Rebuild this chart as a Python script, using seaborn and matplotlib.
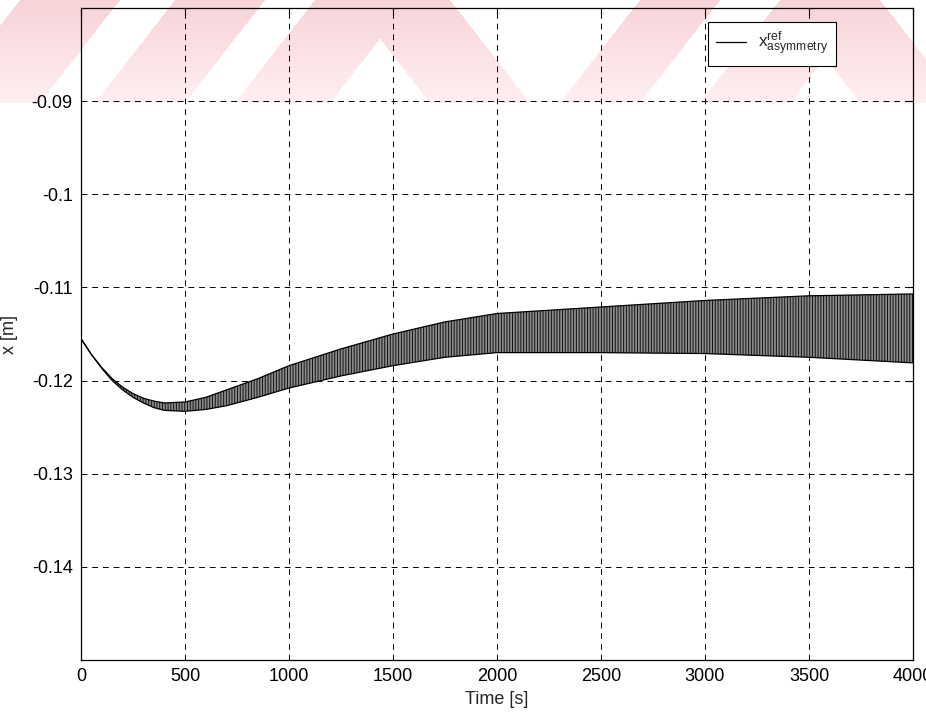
import numpy as np
import matplotlib
matplotlib.use("Agg")
import matplotlib.pyplot as plt
import seaborn as sns
from matplotlib.path import Path

# Envelope of the oscillating reference trajectory (upper / lower bounds)
time_s = [0, 50, 100, 150, 200, 250, 300, 350, 400, 500, 600, 700, 850,
          1000, 1250, 1500, 1750, 2000, 2500, 3000, 3500, 4000]
x_upper = [-0.1155, -0.1172, -0.1186, -0.1198, -0.1207, -0.1214, -0.1219,
           -0.1222, -0.1224, -0.1223, -0.1218, -0.1210, -0.1198, -0.1184,
           -0.1166, -0.1150, -0.1137, -0.1128, -0.1121, -0.1114, -0.1109,
           -0.1107]
x_lower = [-0.1155, -0.1172, -0.1187, -0.1200, -0.1210, -0.1218, -0.1224,
           -0.1229, -0.1232, -0.1233, -0.1231, -0.1227, -0.1218, -0.1208,
           -0.1195, -0.1184, -0.1175, -0.1170, -0.1170, -0.1171, -0.1175,
           -0.1181]

x_ticks = [0, 500, 1000, 1500, 2000, 2500, 3000, 3500, 4000]
y_ticks = [-0.14, -0.13, -0.12, -0.11, -0.10, -0.09]
y_tick_labels = ["-0.14", "-0.13", "-0.12", "-0.11", "-0.1", "-0.09"]
legend_label = r"$\mathregular{x^{ref}_{asymmetry}}$"

sns.set_style("white")
plt.rcParams["font.family"] = ["Liberation Sans", "DejaVu Sans"]
plt.rcParams["mathtext.fontset"] = "custom"
plt.rcParams["mathtext.rm"] = "Liberation Sans"
plt.rcParams["hatch.linewidth"] = 0.7

W, H = 926, 715
fig = plt.figure(figsize=(W / 100, H / 100), dpi=100)
fig.patch.set_facecolor("white")

# --- faint pink diagonal watermark across the top strip ---
bg = fig.add_axes([0, 0, 1, 1], zorder=0)
bg.axis("off")
band_bottom = 103
shift = 80
stripes = []
for x0, x1 in [(-60, 40), (95, 185), (235, 330), (560, 640), (700, 790)]:
    stripes.append([(x0, band_bottom), (x1, band_bottom),
                    (x1 + shift, 0), (x0 + shift, 0)])
for x0, x1 in [(430, 530), (860, 960)]:
    stripes.append([(x0, band_bottom), (x1, band_bottom),
                    (x1 - shift, 0), (x0 - shift, 0)])
yy, xx = np.mgrid[0:H, 0:W]
pts = np.column_stack([xx.ravel() + 0.5, yy.ravel() + 0.5])
mask = np.zeros(H * W, dtype=bool)
for poly in stripes:
    mask |= Path(poly).contains_points(pts)
mask = mask.reshape(H, W)
img = np.ones((H, W, 3))
frac = np.clip(yy / band_bottom, 0, 1)
pink_top = np.array([0.97, 0.83, 0.85])
pink_bot = np.array([1.00, 0.94, 0.95])
pink = (pink_top[None, None, :] * (1 - frac[..., None])
        + pink_bot[None, None, :] * frac[..., None])
img[mask] = pink[mask]
bg.imshow(img, extent=[0, W, H, 0], aspect="auto", interpolation="nearest")
bg.set_xlim(0, W)
bg.set_ylim(H, 0)

# --- main axes ---
ax = fig.add_axes([81 / W, 1 - 660 / H, 832 / W, 652 / H], zorder=1)
ax.patch.set_alpha(0)

ax.fill_between(time_s, x_lower, x_upper, facecolor="#8a8a8a",
                edgecolor="#141414", hatch="||||||", linewidth=0, zorder=2)
sns.lineplot(x=time_s, y=x_upper, color="black", linewidth=0.9,
             label=legend_label, ax=ax, zorder=3)
sns.lineplot(x=time_s, y=x_lower, color="black", linewidth=0.9,
             ax=ax, zorder=3)

ax.set_xlim(0, 4000)
ax.set_ylim(-0.15, -0.08)
ax.set_xticks(x_ticks)
ax.set_xticklabels([str(v) for v in x_ticks])
ax.set_yticks(y_ticks)
ax.set_yticklabels(y_tick_labels)
ax.tick_params(direction="in", length=5, width=0.8, top=True, right=True,
               labelsize=13, pad=6, colors="black")
ax.grid(True, linestyle=(0, (6, 5)), color="black", linewidth=0.7)
for sp in ax.spines.values():
    sp.set_visible(True)
    sp.set_color("black")
    sp.set_linewidth(0.9)

ax.set_xlabel("Time [s]", fontsize=13, labelpad=4)
ax.set_ylabel("x [m]", fontsize=13)
ax.yaxis.set_label_coords((18 - 81) / 832, 0.5)

leg = ax.legend(loc="upper right", bbox_to_anchor=(0.9075, 0.9785),
                borderaxespad=0, fontsize=12.5, frameon=True, fancybox=False,
                framealpha=1, edgecolor="black", handlelength=1.7,
                borderpad=0.45, handletextpad=0.7)
leg.get_frame().set_linewidth(0.8)

fig.savefig("out.png", dpi=100)
